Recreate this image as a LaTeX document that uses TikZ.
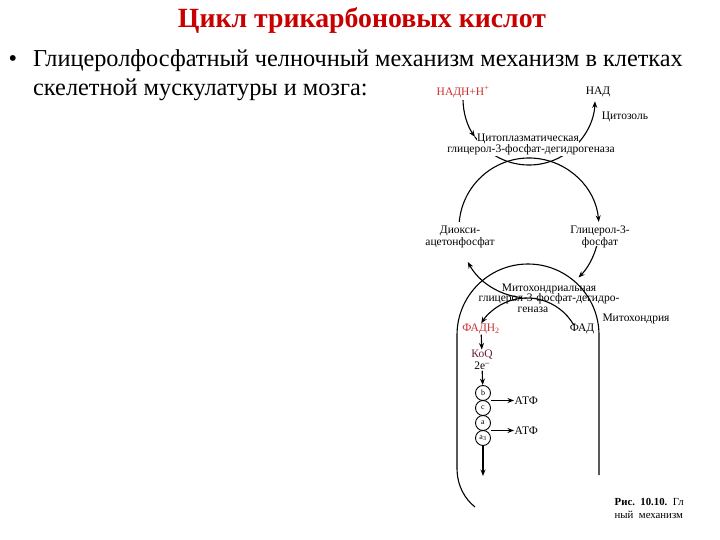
\documentclass[tikz,border=0pt]{standalone}
\usepackage{fontspec}
\setmainfont{Liberation Serif}
\usetikzlibrary{arrows.meta,calc}
\pgfdeclarelayer{background}
\pgfsetlayers{background,main}
\definecolor{titlered}{RGB}{200,0,0}
\definecolor{labred}{RGB}{205,45,45}
\definecolor{koqcol}{RGB}{110,30,50}
\begin{document}
\begin{tikzpicture}[x=1pt,y=-1pt,
  lbl/.style={font=\fontsize{11.5}{12}\selectfont, inner sep=0.5pt, align=center},
  enz/.style={lbl, fill=white},
  cyc/.style={line width=1.1pt},
  arr/.style={cyc, -{Stealth[length=6.5pt,width=5pt]}},
  cyt/.style={draw, circle, minimum size=15pt, inner sep=0pt, line width=0.9pt, font=\fontsize{8}{8}\selectfont},
  big/.style={font=\fontsize{24.3}{28}\selectfont, inner sep=0pt, anchor=base west}
  ]
\useasboundingbox (0,0) rectangle (720,540);

% title and bullet text
\node[font=\fontsize{27.8}{32}\selectfont\bfseries, text=titlered] (title) at (362,21) {Цикл трикарбоновых кислот};
\node[big, anchor=base] (bul) at (13,67) {•};
\node[big] (l1) at (33,67) {Глицеролфосфатный челночный механизм механизм в клетках};
\node[big] (l2) at (33,96) {скелетной мускулатуры и мозга:};

% centres of the arcs
\coordinate (cv) at (529,99);
\coordinate (c1) at (529,228);
\coordinate (cm) at (528,335);
\coordinate (ch) at (527,352);

% labels
\node[lbl, text=labred] (nadh) at (463,92) {НАДН+Н\textsuperscript{+}};
\node[lbl] (nad) at (598,92) {НАД};
\node[lbl] (cytosol) at (625,117) {Цитозоль};
\node[enz] (cenz1) at (528,138.5) {Цитоплазматическая};
\node[enz] (cenz2) at (531,150) {глицерол-3-фосфат-дегидрогеназа};
\node[lbl] (dhap) at (460,237) {Диокси-\\ацетонфосфат};
\node[lbl] (g3p) at (600,237) {Глицерол-3-\\фосфат};
\node[lbl] (menz1) at (549,288.5) {Митохондриальная};
\node[lbl] (menz2) at (549,299) {глицерол-3-фосфат-дегидро-};
\node[lbl] (menz3) at (533,309.5) {геназа};
\node[lbl] (mito) at (636,319) {Митохондрия};
\node[lbl, text=labred] (fadh) at (481,329) {ФАДН\textsubscript{2}};
\node[lbl] (fad) at (582,329) {ФАД};
\node[lbl, text=koqcol] (koq) at (482,355) {КоQ};
\node[lbl] (e2) at (482,366) {2e\textsuperscript{–}};
\node[cyt] (cb) at (483,393) {b};
\node[cyt] (cc) at (483,408) {c};
\node[cyt] (ca) at (483,423) {a};
\node[cyt] (ca3) at (483,438) {a\textsubscript{3}};
\node[lbl, anchor=west] (atp1) at (514,400.5) {АТФ};
\node[lbl, anchor=west] (atp2) at (514,430.5) {АТФ};
\coordinate (chainend) at (483,476);

% caption
\node[lbl, anchor=base west, align=left, font=\fontsize{10.8}{12}\selectfont] (cap1) at (614,505) {\textbf{Рис.\enspace 10.10.}\enspace Гл};
\node[lbl, anchor=base west, align=left, font=\fontsize{10.8}{12}\selectfont] (cap2) at (614,518) {ный\enspace механизм};

\begin{pgfonlayer}{background}
% cytosolic NADH -> NAD arc
\draw[arr] ($(cv)+(181:66pt)$) arc[start angle=181, end angle=215, radius=66pt];
\draw[arr] ($(cv)+(215:66pt)$) arc[start angle=215, end angle=358, radius=66pt];
% shuttle circle
\draw[arr] ($(c1)+(175:70pt)$) arc[start angle=175, end angle=5, radius=70pt];
\draw[arr] ($(c1)+(264:70pt)$) arc[start angle=264, end angle=209, radius=70pt];
\draw[arr] ($(c1)+(345:70pt)$) arc[start angle=345, end angle=315, radius=70pt];
% mitochondrial FAD -> FADH2
\draw[arr] ($(ch)+(30:54pt)$) arc[start angle=30, end angle=148, radius=54pt];
% mitochondrion membrane
\draw[cyc] (457,468) -- ($(cm)+(180:71pt)$) arc[start angle=180, end angle=0, radius=71pt] -- (599,475);
\draw[cyc] (457,468) .. controls (457,486) and (465,499) .. (475,507);
\end{pgfonlayer}

% respiratory chain
\draw[arr] (fadh) -- (koq);
\draw[arr] (e2) -- (cb);
\draw[arr] ($(cb.east)!0.5!(cc.east)$) -- (atp1.west);
\draw[arr] ($(ca.east)!0.5!(ca3.east)$) -- (atp2.west);
\draw[arr] (ca3) -- (chainend);
\end{tikzpicture}
\end{document}
